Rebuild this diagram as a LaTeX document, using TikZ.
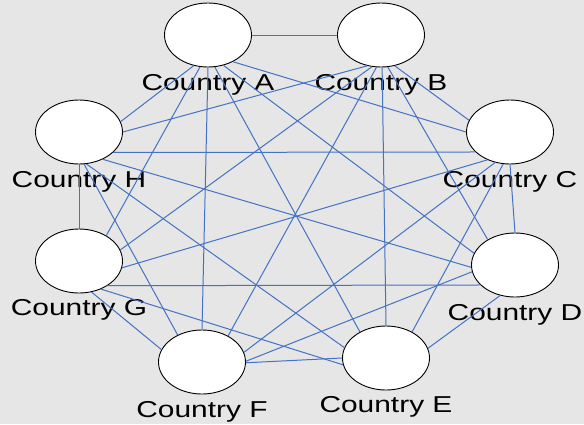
\documentclass[tikz,border=0pt]{standalone}
\usepackage{fontspec}
\setmainfont{Liberation Sans}[FakeStretch=1.3]
\usepackage{tikz}
\usepackage{xcolor}
\usetikzlibrary{positioning,shapes.geometric}

\definecolor{paper}{RGB}{230,230,230}
\definecolor{linkblue}{RGB}{68,114,196}

\begin{document}
\begin{tikzpicture}[x=1pt,y=-1pt,
  country/.style={draw=black,fill=white,ellipse,line width=0.9pt,minimum width=87pt,minimum height=64pt,inner sep=0pt},
  caption/.style={inner sep=0pt,font=\fontsize{23}{27}\selectfont},
  link/.style={draw=linkblue,line width=1pt}]
\fill[paper] (0,0) rectangle (584,424);

% the eight countries
\node[country] (A) at (208,35) {};
\node[country] (B) at (381,35) {};
\node[country] (C) at (510,132) {};
\node[country] (D) at (515,265) {};
\node[country] (E) at (386,358) {};
\node[country] (F) at (202,362) {};
\node[country] (G) at (79,261) {};
\node[country] (H) at (79,132) {};

\node[caption,below=7pt of A] (labA) {Country A};
\node[caption,below=7pt of B] (labB) {Country B};
\node[caption,below=7pt of C] (labC) {Country C};
\node[caption,below=7pt of D] (labD) {Country D};
\node[caption,below=6pt of E] (labE) {Country E};
\node[caption,below=7pt of F] (labF) {Country F};
\node[caption,below=6pt of G] (labG) {Country G};
\node[caption,below=7pt of H] (labH) {Country H};

% every country linked to every other (from/angle/to/angle)
\foreach \s/\a/\t/\b in {A/0/B/180, A/313/C/180, A/297/D/164, A/282/E/135,
    A/270/F/90, A/256/G/43, A/245/H/14,
    B/294/C/164, B/282/D/137, B/272/E/90, B/262/F/45, B/254/G/15, B/246/H/0,
    C/270/D/90, C/258/E/45, C/244/F/13, C/231/G/351, C/210/H/329,
    D/244/E/13, D/189/F/1, D/210/G/319, D/183/H/311,
    E/180/F/-1, E/189/G/308, E/166/H/283,
    F/163/G/292, F/132/H/279,
    G/90/H/270}
  \draw[link] (\s.\a) -- (\t.\b);
\end{tikzpicture}
\end{document}
